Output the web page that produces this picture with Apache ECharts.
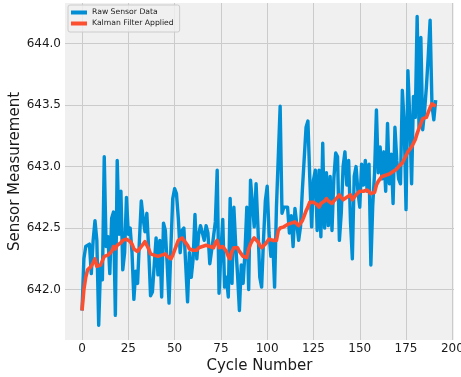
<!DOCTYPE html>
<html>
<head>
<meta charset="utf-8">
<script src="https://cdn.jsdelivr.net/npm/echarts@6/dist/echarts.min.js"></script>
<style>
html,body{margin:0;padding:0;background:#ffffff;}
#chart{width:461px;height:377px;}
</style>
</head>
<body>
<div id="chart"></div>
<script>
const seriesNames = ['Raw Sensor Data', 'Kalman Filter Applied'];
const xTicks = [0, 25, 50, 75, 100, 125, 150, 175, 200];
const yTicks = [642.0, 642.5, 643.0, 643.5, 644.0];

const rawData = [
  641.83, 642.25, 642.35, 642.36, 642.37, 642.13, 642.40, 642.56, 642.40, 641.71,
  642.19, 642.08, 643.08, 642.35, 642.43, 642.13, 642.58, 642.63, 641.79, 643.05,
  642.45, 642.80, 642.16, 642.30, 642.75, 642.45, 642.50, 642.30, 641.92, 642.15,
  642.05, 642.40, 642.72, 642.58, 642.47, 642.62, 642.33, 641.95, 641.98, 642.20,
  642.42, 642.12, 642.40, 641.94, 642.54, 642.48, 642.20, 641.89, 642.35, 642.74,
  642.82, 642.78, 642.58, 642.30, 642.48, 642.50, 642.20, 641.90, 642.30, 642.10,
  642.25, 642.61, 642.25, 642.45, 642.52, 642.52, 642.40, 642.52, 642.46, 642.21,
  642.21, 642.43, 642.55, 642.97, 641.97, 642.30, 642.57, 642.02, 642.10, 641.94,
  642.74, 642.05, 642.67, 642.36, 642.12, 641.83, 642.20, 642.05, 642.30, 642.67,
  642.00, 642.89, 642.88, 642.51, 642.86, 642.51, 642.10, 642.02, 642.40, 642.72,
  642.84, 642.46, 642.27, 642.40, 642.02, 642.67, 642.67, 643.49, 642.62, 642.67,
  642.66, 642.67, 642.46, 642.60, 642.35, 642.66, 642.65, 642.40, 642.51, 642.81,
  642.81, 643.32, 643.37, 642.91, 642.51, 642.89, 642.97, 642.48, 642.97, 642.43,
  643.19, 642.50, 642.95, 642.52, 642.92, 642.48, 642.90, 643.11, 643.08, 642.40,
  642.62, 643.00, 643.12, 642.85, 643.05, 642.55, 642.25, 642.92, 643.00, 642.80,
  642.67, 643.02, 642.85, 643.05, 642.80, 643.02, 642.20, 642.68, 642.95, 643.46,
  642.95, 643.16, 642.90, 643.12, 642.80, 643.35, 642.86, 643.10, 642.70, 643.32,
  643.05, 642.90, 642.86, 643.62, 643.35, 642.65, 643.78, 643.40, 642.86, 643.57,
  643.40, 644.22, 643.32, 644.05, 643.30, 643.45, 643.65, 643.90, 644.19, 643.50,
  643.38, 643.54
];

const kalmanData = [
  641.83, 642.00, 642.10, 642.16, 642.16, 642.19, 642.22, 642.25, 642.19, 642.19,
  642.20, 642.19, 642.27, 642.28, 642.28, 642.29, 642.31, 642.35, 642.33, 642.36,
  642.37, 642.38, 642.40, 642.39, 642.41, 642.40, 642.39, 642.37, 642.33, 642.32,
  642.31, 642.32, 642.35, 642.37, 642.39, 642.36, 642.33, 642.29, 642.28, 642.28,
  642.27, 642.27, 642.27, 642.28, 642.28, 642.29, 642.27, 642.26, 642.25, 642.28,
  642.32, 642.36, 642.40, 642.41, 642.42, 642.41, 642.38, 642.36, 642.33, 642.33,
  642.32, 642.31, 642.32, 642.34, 642.34, 642.35, 642.36, 642.36, 642.36, 642.35,
  642.34, 642.34, 642.38, 642.40, 642.34, 642.35, 642.35, 642.33, 642.31, 642.27,
  642.25, 642.31, 642.34, 642.35, 642.34, 642.31, 642.29, 642.27, 642.27, 642.26,
  642.33, 642.37, 642.40, 642.42, 642.43, 642.39, 642.36, 642.34, 642.35, 642.37,
  642.39, 642.41, 642.41, 642.40, 642.39, 642.40, 642.48, 642.50, 642.51, 642.51,
  642.52, 642.53, 642.54, 642.54, 642.55, 642.55, 642.54, 642.52, 642.54, 642.56,
  642.60, 642.64, 642.67, 642.71, 642.71, 642.71, 642.71, 642.69, 642.67, 642.70,
  642.71, 642.72, 642.74, 642.72, 642.71, 642.70, 642.72, 642.73, 642.75, 642.77,
  642.75, 642.73, 642.74, 642.75, 642.76, 642.77, 642.73, 642.74, 642.77, 642.78,
  642.80, 642.80, 642.80, 642.80, 642.81, 642.82, 642.78, 642.78, 642.79, 642.85,
  642.88, 642.90, 642.92, 642.92, 642.93, 642.94, 642.94, 642.95, 642.96, 642.97,
  642.98, 643.00, 643.01, 643.03, 643.06, 643.09, 643.12, 643.14, 643.16, 643.17,
  643.22, 643.27, 643.31, 643.35, 643.39, 643.40, 643.40, 643.44, 643.48, 643.51,
  643.50, 643.49
];

const toPairs = arr => arr.map((v, i) => [i, v]);

const chart = echarts.init(document.getElementById('chart'), null, {renderer: 'canvas'});
const FONT = 'DejaVu Sans';

chart.setOption({
  animation: false,
  backgroundColor: '#ffffff',
  textStyle: {fontFamily: FONT},
  grid: {
    left: 65, right: 7, top: 3, bottom: 37,
    show: true, backgroundColor: '#f0f0f0', borderWidth: 0,
    containLabel: false,
    outerBoundsMode: 'none'
  },
  legend: {
    left: 68, top: 5,
    orient: 'vertical',
    data: seriesNames,
    backgroundColor: 'rgba(240,240,240,0.8)',
    borderColor: '#cccccc', borderWidth: 1, borderRadius: 2,
    padding: [3, 6, 4, 3],
    itemGap: 2,
    itemWidth: 16, itemHeight: 4,
    icon: 'rect',
    textStyle: {fontFamily: FONT, fontSize: 7.7, color: '#222222', lineHeight: 9}
  },
  xAxis: {
    type: 'value',
    min: -9.2, max: 200.9,
    name: 'Cycle Number',
    nameLocation: 'middle',
    nameGap: 19,
    nameMoveOverlap: false,
    nameTextStyle: {fontFamily: FONT, fontSize: 15, color: '#1a1a1a'},
    axisLine: {show: false},
    axisTick: {show: false, customValues: xTicks},
    axisLabel: {customValues: xTicks, fontFamily: FONT, fontSize: 12, color: '#1a1a1a', margin: 3},
    splitLine: {show: true, lineStyle: {color: '#cbcbcb', width: 1}}
  },
  yAxis: {
    type: 'value',
    min: 641.59, max: 644.33,
    name: 'Sensor Measurement',
    nameLocation: 'middle',
    nameGap: 42,
    nameMoveOverlap: false,
    nameTextStyle: {fontFamily: FONT, fontSize: 15, color: '#1a1a1a'},
    axisLine: {show: false},
    axisTick: {show: false, customValues: yTicks},
    axisLabel: {customValues: yTicks, fontFamily: FONT, fontSize: 12, color: '#1a1a1a', margin: 4,
      formatter: v => Number(v).toFixed(1)},
    splitLine: {show: true, lineStyle: {color: '#cbcbcb', width: 1}}
  },
  series: [
    {
      name: seriesNames[0], type: 'line', data: toPairs(rawData),
      showSymbol: false, symbol: 'none', color: '#008fd5',
      lineStyle: {width: 3.4, color: '#008fd5', join: 'round'}, z: 2
    },
    {
      name: seriesNames[1], type: 'line', data: toPairs(kalmanData),
      showSymbol: false, symbol: 'none', color: '#fc4f30',
      lineStyle: {width: 3.6, color: '#fc4f30', join: 'round'}, z: 3
    }
  ]
});
</script>
</body>
</html>
